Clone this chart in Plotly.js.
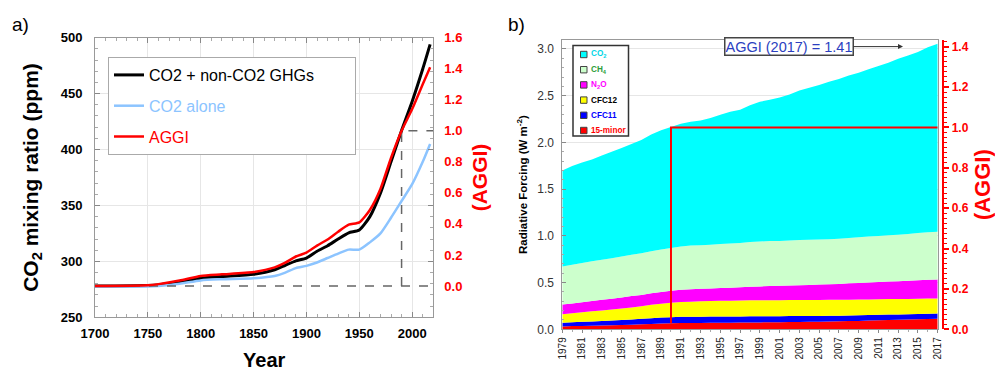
<!DOCTYPE html>
<html>
<head>
<meta charset="utf-8">
<script src="https://cdn.plot.ly/plotly-3.0.1.min.js"></script>
<style>html,body{margin:0;padding:0;background:#fff;}#chart{width:995px;height:371px;}</style>
</head>
<body>
<div id="chart"></div>
<script>
// ---------- Panel a data ----------
const yearsA = [1700, 1750, 1760, 1780, 1800, 1820, 1850, 1870, 1880, 1890, 1900, 1910, 1920, 1930, 1940, 1950, 1960, 1970, 1980, 1990, 2000, 2010, 2017];
const co2eqPpm = [278, 278.5, 279, 281.5, 285, 286.5, 288.5, 292.5, 296.5, 300.5, 303, 309, 314, 320, 325.5, 328, 340, 361, 389, 417, 443, 472, 494];
const co2AlonePpm = [277.5, 277.5, 278, 280, 283, 284, 285, 287, 290, 294, 296, 299, 303, 307, 310.5, 310.5, 317, 325, 339, 354, 369, 389, 405];
const aggiA = [0, 0.005, 0.012, 0.035, 0.065, 0.075, 0.09, 0.12, 0.15, 0.19, 0.215, 0.26, 0.30, 0.35, 0.395, 0.41, 0.49, 0.625, 0.825, 1.0, 1.14, 1.30, 1.41];
const refLineX = [1700, 2020, null, 1990, 1990, 2020];
const refLineY = [0, 0, null, 0, 1, 1];
const ppmTicks = [250, 300, 350, 400, 450, 500];
const yearTicksA = [1700, 1750, 1800, 1850, 1900, 1950, 2000];
const aggiTicksA = [0, 0.2, 0.4, 0.6, 0.8, 1.0, 1.2, 1.4, 1.6];
const seriesNamesA = ['CO2 + non-CO2 GHGs', 'CO2 alone', 'AGGI'];

// ---------- Panel b data ----------
const yearsB = [1979,1980,1981,1982,1983,1984,1985,1986,1987,1988,1989,1990,1991,1992,1993,1994,1995,1996,1997,1998,1999,2000,2001,2002,2003,2004,2005,2006,2007,2008,2009,2010,2011,2012,2013,2014,2015,2016,2017];
const rfCO2 = [1.027,1.058,1.077,1.089,1.115,1.140,1.162,1.184,1.211,1.250,1.274,1.293,1.313,1.324,1.334,1.356,1.383,1.410,1.426,1.465,1.495,1.513,1.535,1.564,1.601,1.627,1.655,1.685,1.710,1.739,1.760,1.791,1.818,1.846,1.882,1.909,1.938,1.980,2.012];
const rfCH4 = [0.406,0.413,0.420,0.426,0.429,0.432,0.437,0.442,0.447,0.451,0.455,0.459,0.463,0.467,0.467,0.470,0.472,0.473,0.474,0.478,0.481,0.481,0.481,0.481,0.483,0.482,0.481,0.481,0.483,0.486,0.489,0.491,0.493,0.495,0.498,0.501,0.504,0.507,0.509];
const rfN2O = [0.104,0.104,0.107,0.111,0.113,0.116,0.118,0.122,0.120,0.123,0.126,0.129,0.131,0.133,0.134,0.134,0.136,0.139,0.142,0.145,0.148,0.151,0.153,0.156,0.159,0.161,0.165,0.168,0.171,0.175,0.178,0.181,0.185,0.188,0.192,0.195,0.199,0.202,0.205];
const rfCFC12 = [0.092,0.097,0.102,0.108,0.113,0.118,0.123,0.129,0.135,0.143,0.149,0.154,0.158,0.162,0.164,0.166,0.168,0.169,0.170,0.171,0.172,0.172,0.172,0.172,0.172,0.171,0.171,0.170,0.169,0.168,0.168,0.167,0.166,0.165,0.164,0.163,0.163,0.162,0.161];
const rfCFC11 = [0.039,0.042,0.044,0.046,0.048,0.050,0.053,0.056,0.059,0.062,0.064,0.065,0.067,0.067,0.067,0.067,0.067,0.066,0.066,0.066,0.065,0.065,0.064,0.064,0.063,0.063,0.062,0.062,0.061,0.061,0.060,0.060,0.059,0.059,0.058,0.058,0.057,0.057,0.056];
const rfMinor = [0.031,0.034,0.036,0.038,0.041,0.044,0.047,0.049,0.053,0.057,0.061,0.064,0.067,0.067,0.068,0.069,0.070,0.071,0.072,0.073,0.074,0.075,0.076,0.077,0.078,0.080,0.081,0.083,0.085,0.088,0.090,0.093,0.096,0.099,0.101,0.104,0.107,0.110,0.112];
const aggiBoxX = [1990, 1990, 2017];
const aggiBoxY = [0.03, 1.0, 1.0];
const yearTicksB = [1979,1981,1983,1985,1987,1989,1991,1993,1995,1997,1999,2001,2003,2005,2007,2009,2011,2013,2015,2017];
const rfTicks = [0, 0.5, 1.0, 1.5, 2.0, 2.5, 3.0];
const aggiTicksB = [0, 0.2, 0.4, 0.6, 0.8, 1.0, 1.2, 1.4];
// legend order, top to bottom
const gasNames = ['CO<sub>2</sub>', 'CH<sub>4</sub>', 'N<sub>2</sub>O', 'CFC12', 'CFC11', '15-minor'];
const gasFill = ['#00ffff', '#ccffcc', '#ff00ff', '#ffff00', '#0000ff', '#ff0000'];
const gasText = ['#00d6e6', '#2e9e3a', '#ff00ff', '#000000', '#0000ff', '#ff0000'];
const gasValues = [rfCO2, rfCH4, rfN2O, rfCFC12, rfCFC11, rfMinor];
const aggiLabel = 'AGGI (2017) = 1.41';

const W = 995, H = 371;
const px = v => v / W;
const py = v => 1 - v / H;
const FONT = 'Arial, "Liberation Sans", Helvetica, sans-serif';
const NB = n => '\u00a0'.repeat(n);

const traces = [
  {x: yearsA, y: co2eqPpm, xaxis: 'x', yaxis: 'y', mode: 'lines', line: {color: '#000000', width: 3, shape: 'spline', smoothing: 0.6},
   name: '<span style="color:#000000">' + seriesNamesA[0] + NB(8) + '</span>', legend: 'legend', legendgroup: 'a1'},
  {x: yearsA, y: co2AlonePpm, xaxis: 'x', yaxis: 'y', mode: 'lines', line: {color: '#8cc4ff', width: 2.5, shape: 'spline', smoothing: 0.6},
   name: '<span style="color:#8cc4ff">' + seriesNamesA[1] + '</span>', legend: 'legend', legendgroup: 'a2'},
  {x: refLineX, y: refLineY, xaxis: 'x', yaxis: 'y2', mode: 'lines', line: {color: '#666666', width: 1.5, dash: 'dash'},
   showlegend: false, hoverinfo: 'skip'},
  {x: yearsA, y: aggiA, xaxis: 'x', yaxis: 'y2', mode: 'lines', line: {color: '#ff0000', width: 2.5, shape: 'spline', smoothing: 0.6},
   name: '<span style="color:#ff0000">' + seriesNamesA[2] + '</span>', legend: 'legend', legendgroup: 'a3'}
];
// stacked areas, bottom layer first
for (let i = gasNames.length - 1; i >= 0; i--) {
  traces.push({x: yearsB, y: gasValues[i], xaxis: 'x2', yaxis: 'y3', stackgroup: 'rf', mode: 'none',
    fillcolor: gasFill[i], name: gasNames[i], showlegend: false});
}
traces.push({x: aggiBoxX, y: aggiBoxY, xaxis: 'x2', yaxis: 'y4', mode: 'lines', line: {color: '#ff0000', width: 2},
  showlegend: false, hoverinfo: 'skip'});

// panel b legend (box, swatches, labels)
const legX = 573, legY0 = 45.5, legY1 = 136, legStep = 15.2, legFirst = 54.5;
const shapes = [
  {type: 'rect', xref: 'paper', yref: 'paper', x0: px(legX), x1: px(628.5), y0: py(legY1), y1: py(legY0),
   line: {color: '#333333', width: 1.5}, fillcolor: '#ffffff', layer: 'above'}
];
const annotations = [
  {text: 'a)', xref: 'paper', yref: 'paper', x: px(10), y: py(24), xanchor: 'left', yanchor: 'middle', showarrow: false, font: {size: 19, family: FONT}},
  {text: 'b)', xref: 'paper', yref: 'paper', x: px(506), y: py(24), xanchor: 'left', yanchor: 'middle', showarrow: false, font: {size: 19, family: FONT}},
  {text: aggiLabel, xref: 'paper', yref: 'paper', x: px(903), y: py(46.6), ax: -113.8, ay: 0,
   showarrow: true, arrowhead: 2, arrowsize: 1, arrowwidth: 1, arrowcolor: '#333',
   font: {size: 14.5, color: '#2b3fc0', family: FONT}, bgcolor: '#ffffff', bordercolor: '#444', borderwidth: 1.5, borderpad: 0}
];
gasNames.forEach((nm, i) => {
  const cy = legFirst + i * legStep;
  shapes.push({type: 'rect', xref: 'paper', yref: 'paper', x0: px(580.5), x1: px(587), y0: py(cy + 3.2), y1: py(cy - 3.2),
    line: {color: '#444444', width: 1}, fillcolor: gasFill[i], layer: 'above'});
  annotations.push({text: '<b>' + nm + '</b>', xref: 'paper', yref: 'paper', x: px(588.5), y: py(cy), xanchor: 'left', yanchor: 'middle',
    showarrow: false, font: {size: 8.2, color: gasText[i], family: FONT}});
});

const layout = {
  width: W, height: H,
  margin: {l: 0, r: 0, t: 0, b: 0},
  paper_bgcolor: '#ffffff', plot_bgcolor: '#ffffff',
  font: {family: FONT, color: '#000000'},
  showlegend: true,
  xaxis: {
    domain: [px(95), px(433.3)], range: [1700, 2020], anchor: 'y',
    tickvals: yearTicksA, ticks: 'inside', ticklen: 5, tickcolor: '#888', ticklabelstandoff: 4,
    minor: {dtick: 10, ticks: 'inside', ticklen: 3, tickcolor: '#aaa', showgrid: false},
    showgrid: true, gridcolor: '#e6e6e6', zeroline: false,
    showline: true, linecolor: '#999', linewidth: 1, mirror: 'ticks',
    tickfont: {size: 13, weight: 'bold', family: FONT},
    title: {text: 'Year' + NB(6), font: {size: 20, weight: 'bold', family: FONT}, standoff: 14},
    automargin: false
  },
  yaxis: {
    domain: [py(317.3), py(37.7)], range: [250, 500], anchor: 'x',
    tickvals: ppmTicks, ticks: 'inside', ticklen: 5, tickcolor: '#888', ticklabelstandoff: 9,
    minor: {dtick: 10, ticks: 'inside', ticklen: 3, tickcolor: '#aaa', showgrid: false},
    showgrid: true, gridcolor: '#e6e6e6', zeroline: false,
    showline: true, linecolor: '#999', linewidth: 1, mirror: 'ticks',
    tickfont: {size: 13, weight: 'bold', family: FONT},
    title: {text: 'CO<sub>2</sub> mixing ratio (ppm)', font: {size: 21, weight: 'bold', family: FONT}, standoff: 16},
    automargin: false
  },
  yaxis2: {
    overlaying: 'y', side: 'right', anchor: 'x', range: [-0.2018, 1.6],
    tickvals: aggiTicksA, tickformat: '.1f', ticks: '', ticklabelstandoff: 10, showgrid: false, zeroline: false, showline: false,
    tickfont: {size: 13, weight: 'bold', color: '#ff0000', family: FONT},
    title: {text: '(AGGI)', font: {size: 21, weight: 'bold', color: '#ff0000', family: FONT}, standoff: 10},
    automargin: false
  },
  xaxis2: {
    domain: [px(562.3), px(937.7)], range: [1979, 2017], anchor: 'y3',
    tickvals: yearTicksB, tickangle: -90, ticks: 'outside', ticklen: 3, tickcolor: '#888',
    minor: {dtick: 1, ticks: 'outside', ticklen: 2, tickcolor: '#aaa', showgrid: false},
    showgrid: false, zeroline: false,
    showline: true, linecolor: '#999', linewidth: 1, mirror: true,
    tickfont: {size: 10, color: '#222', family: FONT},
    automargin: false
  },
  yaxis3: {
    domain: [py(329.3), py(40)], range: [0, 3.096], anchor: 'x2',
    tickvals: rfTicks, tickformat: '.1f', ticks: 'inside', ticklen: 4, tickcolor: '#888', ticklabelstandoff: 5,
    minor: {dtick: 0.1, ticks: 'inside', ticklen: 2, tickcolor: '#aaa', showgrid: false},
    showgrid: true, gridcolor: '#e6e6e6', zeroline: false,
    showline: true, linecolor: '#999', linewidth: 1, mirror: true,
    tickfont: {size: 12, color: '#333', family: FONT},
    title: {text: 'Radiative Forcing (W m<sup>-2</sup>)', font: {size: 11.5, weight: 'bold', family: FONT}, standoff: 7},
    automargin: false
  },
  yaxis4: {
    overlaying: 'y3', side: 'right', anchor: 'free', position: px(943.3), range: [0, 1.433],
    tickvals: aggiTicksB, tickformat: '.1f', ticks: 'outside', ticklen: 5, tickwidth: 2, tickcolor: '#ff0000',
    minor: {dtick: 0.025, ticks: 'outside', ticklen: 3, tickwidth: 1, tickcolor: '#ff0000', showgrid: false},
    showgrid: false, zeroline: false, showline: true, linecolor: '#ff0000', linewidth: 2,
    tickfont: {size: 12, weight: 'bold', color: '#ff0000', family: FONT},
    title: {text: '(AGGI)', font: {size: 22, weight: 'bold', color: '#ff0000', family: FONT}, standoff: 10},
    automargin: false
  },
  legend: {
    x: px(108), y: py(57), xanchor: 'left', yanchor: 'top',
    bgcolor: '#ffffff', bordercolor: '#aaaaaa', borderwidth: 1,
    font: {size: 16, family: FONT}, traceorder: 'grouped', tracegroupgap: 7,
    itemwidth: 30
  },
  shapes: shapes,
  annotations: annotations
};

Plotly.newPlot('chart', traces, layout, {displayModeBar: false, staticPlot: true});
</script>
</body>
</html>
